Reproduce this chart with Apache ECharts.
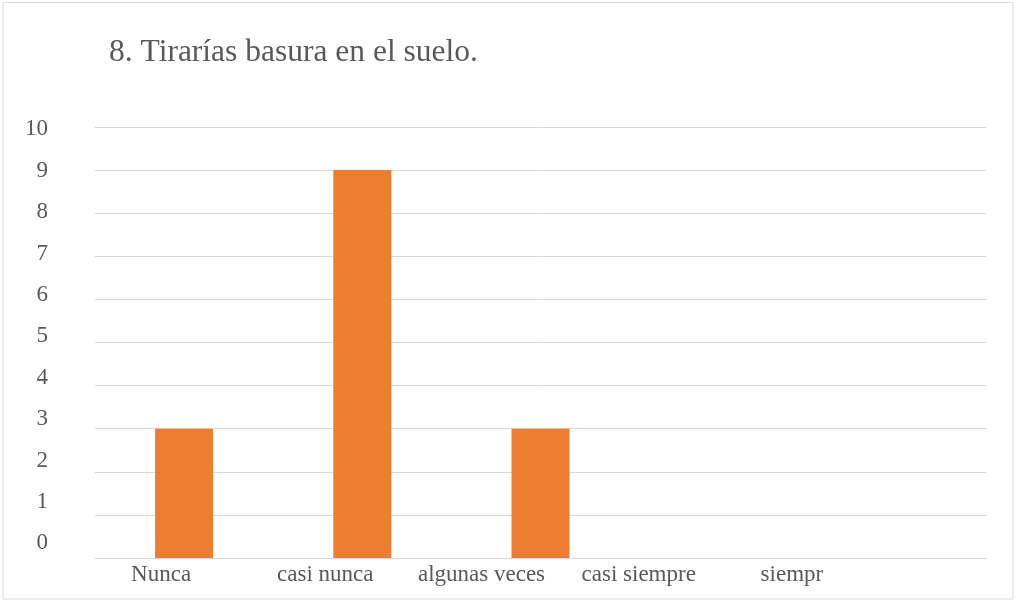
<!DOCTYPE html>
<html>
<head>
<meta charset="utf-8">
<script src="https://cdn.jsdelivr.net/npm/echarts@6/dist/echarts.min.js"></script>
<style>
  html, body { margin: 0; padding: 0; background: #fff; }
  #main { width: 1019px; height: 601px; }
</style>
</head>
<body>
<div id="main"></div>
<script>
// data
var categories = ['Nunca', 'casi nunca', 'algunas veces', 'casi siempre', 'siempr'];
var counts = [3, 9, 3, 0, 0];
var yTicks = [0, 1, 2, 3, 4, 5, 6, 7, 8, 9, 10];

// the original labels sit off their ticks; nudge them the same way
var xNudge = [-23, -37, -59, -80, -105];

var FONT = '"Liberation Serif", "Times New Roman", serif';
var GREY = '#595959';

var xRich = {};
xNudge.forEach(function (d, i) {
  xRich['c' + i] = {
    fontFamily: FONT, fontSize: 23, color: GREY,
    padding: [0, -2 * d, 0, 0]
  };
});
var yRich = {};
yTicks.forEach(function (v) {
  var d = -14.7 + 1.7 * v; // label drift vs gridline
  yRich['y' + v] = {
    fontFamily: FONT, fontSize: 23, color: GREY,
    padding: d < 0 ? [0, 0, -2 * d, 0] : [2 * d, 0, 0, 0]
  };
});

var myChart = echarts.init(document.getElementById('main'));

myChart.setOption({
  backgroundColor: '#fff',
  animation: false,
  title: {
    text: '8. Tirarías basura en el suelo.',
    left: 104,
    top: 32,
    textStyle: { fontFamily: FONT, fontSize: 31.5, fontWeight: 'normal', color: GREY }
  },
  graphic: [{
    type: 'rect',
    shape: { x: 3, y: 2.5, width: 1010, height: 596.5 },
    style: { fill: 'none', stroke: '#d9d9d9', lineWidth: 1 },
    silent: true
  }],
  grid: { left: 95, right: 33, top: 127, bottom: 43 },
  xAxis: {
    type: 'category',
    data: categories,
    axisLine: { lineStyle: { color: '#d9d9d9', width: 1 } },
    axisTick: { show: false },
    axisLabel: {
      margin: 5,
      formatter: function (val, idx) { return '{c' + idx + '|' + val + '}'; },
      rich: xRich
    }
  },
  yAxis: {
    type: 'value',
    min: 0,
    max: 10,
    interval: 1,
    axisLine: { show: false },
    axisTick: { show: false },
    splitLine: { lineStyle: { color: '#d9d9d9', width: 1 } },
    axisLabel: {
      margin: 47,
      formatter: function (val) { return '{y' + val + '|' + val + '}'; },
      rich: yRich
    }
  },
  series: [{
    type: 'bar',
    data: counts,
    barWidth: 58,
    itemStyle: { color: '#ED7D31' }
  }]
});
</script>
</body>
</html>
